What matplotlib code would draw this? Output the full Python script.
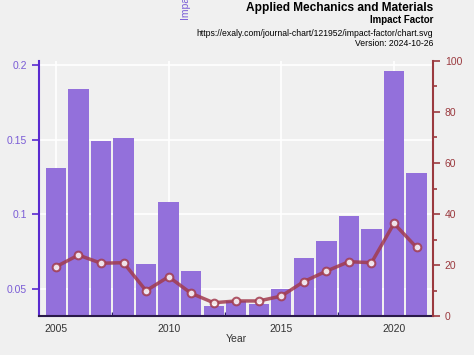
import numpy as np
import matplotlib as mpl
import matplotlib.pyplot as plt
from matplotlib.ticker import MultipleLocator

years = list(range(2005, 2022))
impact_factor = [0.131, 0.184, 0.149, 0.151, 0.067, 0.108, 0.062, 0.039, 0.042,
                 0.040, 0.050, 0.071, 0.082, 0.099, 0.090, 0.196, 0.128]
percentile = [19.3, 23.9, 20.7, 20.9, 9.9, 15.4, 8.9, 5.2, 5.9,
              5.9, 7.8, 13.5, 17.6, 21.3, 20.9, 36.3, 26.9]

bar_color = '#9370db'
left_color = '#5a2ad0'
right_color = '#9b3a3f'
line_color = '#a23b4e'
bg = '#f0f0f0'

mpl.rcParams['font.family'] = 'Liberation Sans'
mpl.rcParams['font.size'] = 7.5

fig = plt.figure(figsize=(4.74, 3.55), dpi=100, facecolor=bg)
ax = fig.add_axes([39 / 474, 1 - 316 / 355, (433 - 39) / 474, (316 - 61) / 355])
ax.set_facecolor(bg)

ax.bar(years, impact_factor, width=0.9, color=bar_color, zorder=2)
ax.set_xlim(2004.25, 2021.73)
ax.set_ylim(0.032, 0.2027)
ax.set_yticks([0.05, 0.1, 0.15, 0.2])
ax.set_yticklabels(['0.05', '0.1', '0.15', '0.2'])
ax.set_xticks([2005, 2010, 2015, 2020])
ax.xaxis.set_minor_locator(MultipleLocator(2.5))
ax.grid(True, color='white', linewidth=1.2, zorder=0)
ax.set_axisbelow(True)

ax.tick_params(axis='y', colors=left_color, labelcolor='#7a5cd6', length=5, width=1.2)
ax.tick_params(axis='x', which='major', direction='in', length=6, width=1.2,
               color='#2a1a6a', labelcolor='#333333', pad=6)
ax.tick_params(axis='x', which='minor', direction='in', length=3, width=1, color='#2a1a6a')
ax.spines['left'].set_color(left_color)
ax.spines['left'].set_linewidth(1.5)
ax.spines['bottom'].set_color('#2a1a4a')
ax.spines['bottom'].set_linewidth(1.5)
ax.spines['top'].set_visible(False)
ax.spines['right'].set_visible(False)
ax.set_xlabel('Year', color='#333333', labelpad=0)

ax2 = ax.twinx()
ax2.plot(years, percentile, color=line_color, linewidth=2.5, alpha=0.85, marker='o',
         markersize=5.5, markerfacecolor='white', markeredgecolor=line_color,
         markeredgewidth=1.5, zorder=3)
ax2.set_ylim(0, 100)
ax2.set_yticks([0, 20, 40, 60, 80, 100])
ax2.yaxis.set_minor_locator(MultipleLocator(10))
ax2.tick_params(axis='y', which='major', colors=right_color, length=5, width=1.2)
ax2.tick_params(axis='y', which='minor', colors=right_color, length=3, width=1.2)
ax2.spines['right'].set_color(right_color)
ax2.spines['right'].set_linewidth(1.5)
for s in ['top', 'left', 'bottom']:
    ax2.spines[s].set_visible(False)

fig.text(433 / 474, 1 - 8 / 355, 'Applied Mechanics and Materials', ha='right', va='center',
         fontsize=8.6, fontweight='bold', color='black')
fig.text(433 / 474, 1 - 20 / 355, 'Impact Factor', ha='right', va='center',
         fontsize=7, fontweight='bold', color='black')
fig.text(433 / 474, 1 - 33.5 / 355, 'https://exaly.com/journal-chart/121952/impact-factor/chart.svg',
         ha='right', va='center', fontsize=6.2, color='black')
fig.text(433 / 474, 1 - 44 / 355, 'Version: 2024-10-26', ha='right', va='center',
         fontsize=6.2, color='black')
fig.text(186 / 474, 1 - 20 / 355, 'Impact Factor', rotation=90, ha='center', va='bottom',
         fontsize=7.5, color='#7a5cd6')

fig.savefig('out.png', dpi=100, facecolor=bg)
